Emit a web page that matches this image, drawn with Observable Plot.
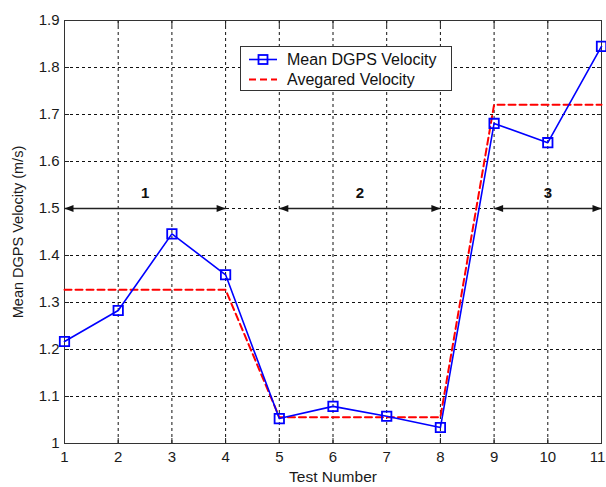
<!DOCTYPE html>
<html><head><meta charset="utf-8">
<script src="https://cdn.jsdelivr.net/npm/d3@7"></script>
<script src="https://cdn.jsdelivr.net/npm/@observablehq/plot@0.6"></script>
<style>
body{margin:0;background:#fff;}
#wrap{position:relative;width:606px;height:487px;font-family:"Liberation Sans",Arial,sans-serif;}
#legend{position:absolute;left:240px;top:46px;width:212px;height:45px;border:1px solid #333;background:#fff;box-sizing:border-box;}
#legend .row{position:absolute;left:0;height:20px;width:100%;}
#legend svg{position:absolute;left:7px;top:0;}
#legend span{position:absolute;left:46px;top:0px;font-size:16px;color:#111;line-height:19px;white-space:nowrap;}
</style></head><body><div id="wrap"></div>
<script>
// ---- data ----
const testNumbers = [1, 2, 3, 4, 5, 6, 7, 8, 9, 10, 11];
const meanVelocity = [1.217, 1.283, 1.446, 1.359, 1.053, 1.079, 1.058, 1.034, 1.681, 1.640, 1.845];
const avgX = [1, 4, 5, 8, 9, 11];
const avgVelocity = [1.327, 1.327, 1.056, 1.056, 1.721, 1.721];
const seriesNames = ["Mean DGPS Velocity", "Avegared Velocity"];
const xTicks = [1, 2, 3, 4, 5, 6, 7, 8, 9, 10, 11];
const yTicks = [1, 1.1, 1.2, 1.3, 1.4, 1.5, 1.6, 1.7, 1.8, 1.9];
const groupStart = [1, 5, 9];
const groupEnd = [4, 8, 11];
const groupLabels = ["1", "2", "3"];
const groupLabelX = [2.5, 6.5, 10];
const groupArrowY = 1.5;
const groupLabelY = 1.532;
const xLabel = "Test Number";
const yLabel = "Mean DGPS Velocity (m/s)";

// ---- derived tables ----
const mean = testNumbers.map((t, i) => ({t, v: meanVelocity[i]}));
const avg = avgX.map((t, i) => ({t, v: avgVelocity[i]}));
const groups = groupStart.map((s, i) => ({s, e: groupEnd[i], label: groupLabels[i], lx: groupLabelX[i]}));
const heads = groups.flatMap(g => [{x: g.s, rot: 180}, {x: g.e, rot: 0}]);
const xTicksInner = xTicks.slice(0, -1);
const xTicksLast = xTicks.slice(-1);

const arrowHead = {draw(ctx) { ctx.moveTo(0, 0); ctx.lineTo(-9, -3.6); ctx.lineTo(-9, 3.6); ctx.closePath(); }};
const fmt = d => String(+d.toFixed(1));
const font = '"Liberation Sans", Arial, sans-serif';

const chart = Plot.plot({
  width: 606, height: 487,
  marginLeft: 64, marginRight: 5, marginTop: 20, marginBottom: 44,
  style: {fontFamily: font, fontSize: "15px", color: "#1a1a1a", background: "transparent"},
  x: {domain: [1, 11]},
  y: {domain: [1, 1.9]},
  marks: [
    Plot.gridX(xTicks, {stroke: "#111", strokeOpacity: 1, strokeDasharray: "3,3"}),
    Plot.gridY(yTicks, {stroke: "#111", strokeOpacity: 1, strokeDasharray: "3,3"}),
    Plot.axisX(xTicks, {anchor: "bottom", tickSize: -5, tickFormat: () => "", label: null, stroke: "#222"}),
    Plot.axisX(xTicks, {anchor: "top", tickSize: -5, tickFormat: () => "", label: null, stroke: "#222"}),
    Plot.axisY(yTicks, {anchor: "left", tickSize: -5, tickFormat: () => "", label: null, stroke: "#222"}),
    Plot.axisY(yTicks, {anchor: "right", tickSize: -5, tickFormat: () => "", label: null, stroke: "#222"}),
    Plot.axisX(xTicksInner, {anchor: "bottom", tickSize: 0, tickPadding: 8, label: null}),
    Plot.axisX(xTicksLast, {anchor: "bottom", tickSize: 0, tickPadding: 8, label: null, dx: -4}),
    Plot.axisY(yTicks, {anchor: "left", tickSize: 0, tickPadding: 5, tickFormat: fmt, label: null}),
    Plot.frame({stroke: "#333", strokeWidth: 1}),
    Plot.text([xLabel], {frameAnchor: "bottom", lineAnchor: "middle", textAnchor: "middle", dy: 34, fontSize: 15.5}),
    Plot.text([yLabel], {frameAnchor: "left", textAnchor: "middle", lineAnchor: "middle", rotate: -90, dx: -46, fontSize: 14.5}),
    Plot.link(groups, {x1: "s", x2: "e", y1: () => groupArrowY, y2: () => groupArrowY, stroke: "#222", strokeWidth: 1.5}),
    Plot.dot(heads, {x: "x", y: () => groupArrowY, symbol: arrowHead, rotate: "rot", fill: "#111", stroke: "none"}),
    Plot.text(groups, {x: "lx", y: () => groupLabelY, text: "label", fontWeight: "bold", fontSize: 15, fill: "#111"}),
    Plot.line(avg, {x: "t", y: "v", stroke: "#ff0000", strokeWidth: 2, strokeDasharray: "7,4"}),
    Plot.line(mean, {x: "t", y: "v", stroke: "#0000ff", strokeWidth: 1.6}),
    Plot.dot(mean, {x: "t", y: "v", symbol: "square", r: 5.3, stroke: "#0000ff", strokeWidth: 1.8, fill: "none"})
  ]
});
const wrap = document.getElementById("wrap");
wrap.appendChild(chart);

// legend
const legend = document.createElement("div");
legend.id = "legend";
const styles = [
  {stroke: "#0000ff", dash: null, width: 1.6, marker: true},
  {stroke: "#ff0000", dash: "7,4", width: 2, marker: false}
];
seriesNames.forEach((name, i) => {
  const row = document.createElement("div");
  row.className = "row";
  row.style.top = (3 + i * 20) + "px";
  const s = styles[i];
  row.innerHTML = `<svg width="32" height="20"><line x1="1" x2="29" y1="9.5" y2="9.5" stroke="${s.stroke}" stroke-width="${s.width}" ${s.dash ? `stroke-dasharray="${s.dash}"` : ""}/>${s.marker ? `<rect x="10.5" y="5" width="9" height="9" fill="none" stroke="${s.stroke}" stroke-width="1.8"/>` : ""}</svg><span>${name}</span>`;
  legend.appendChild(row);
});
wrap.appendChild(legend);
</script>
</body></html>
